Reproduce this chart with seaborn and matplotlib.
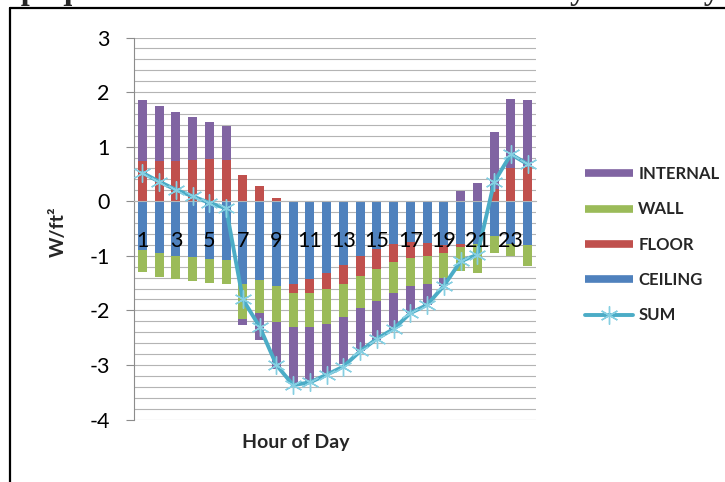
import numpy as np
import matplotlib
matplotlib.use("Agg")
import matplotlib.pyplot as plt
from matplotlib.lines import Line2D
from matplotlib.ticker import MultipleLocator
from matplotlib.transforms import offset_copy
import seaborn as sns

# Hourly heat flows through opaque surfaces (W/ft²), hours 1..24
hours = [str(h) for h in range(1, 25)]
ceiling = [-0.90, -0.95, -1.00, -1.02, -1.05, -1.07, -1.52, -1.45, -1.56, -1.51, -1.43, -1.32,
           -1.16, -1.00, -0.88, -0.79, -0.74, -0.77, -0.80, -0.78, -0.79, -0.63, -0.79, -0.81]
floor = [0.73, 0.73, 0.74, 0.75, 0.77, 0.76, 0.48, 0.27, 0.06, -0.17, -0.26, -0.29,
         -0.35, -0.37, -0.37, -0.32, -0.30, -0.24, -0.14, -0.05, 0.00, 0.22, 0.60, 0.63]
wall = [-0.40, -0.43, -0.42, -0.44, -0.45, -0.45, -0.63, -0.59, -0.66, -0.63, -0.61, -0.64,
        -0.61, -0.58, -0.57, -0.57, -0.52, -0.50, -0.46, -0.44, -0.52, -0.31, -0.21, -0.38]
internal = [1.12, 1.02, 0.89, 0.79, 0.68, 0.62, -0.11, -0.51, -0.85, -1.04, -1.01, -0.91,
            -0.86, -0.79, -0.72, -0.67, -0.49, -0.40, -0.15, 0.18, 0.34, 1.05, 1.27, 1.23]
total = [0.52, 0.36, 0.21, 0.09, -0.03, -0.13, -1.80, -2.30, -3.00, -3.37, -3.32, -3.18,
         -3.03, -2.75, -2.52, -2.34, -2.05, -1.90, -1.55, -1.10, -0.98, 0.35, 0.86, 0.68]

series = [("CEILING", ceiling), ("FLOOR", floor), ("WALL", wall), ("INTERNAL", internal)]
colors = {"CEILING": "#4F81BD", "FLOOR": "#C0504D", "WALL": "#9BBB59", "INTERNAL": "#8064A2"}
sum_color = "#4BACC6"
marker_color = "#86cfe2"
grid_color = "#b4b4b4"
axis_color = "#8c8c8c"

sns.set_theme(style="white")
plt.rcParams["font.family"] = ["Lato", "DejaVu Sans"]
plt.rcParams["axes.unicode_minus"] = False

W, H = 725, 482
fig = plt.figure(figsize=(W / 100, H / 100), dpi=100)
fig.patch.set_facecolor("white")
ax = fig.add_axes([134 / W, 1 - 419.5 / H, 402 / W, 382 / H])

# stacked bars: positives build up from zero, negatives build down from zero
pos_base = np.zeros(len(hours))
neg_base = np.zeros(len(hours))
for name, vals in series:
    v = np.asarray(vals, dtype=float)
    base = np.where(v >= 0, pos_base, neg_base)
    sns.barplot(x=hours, y=v, bottom=base, color=colors[name], saturation=1,
                width=0.55, errorbar=None, linewidth=0, edgecolor="none",
                ax=ax, zorder=2)
    pos_base = pos_base + np.clip(v, 0, None)
    neg_base = neg_base + np.clip(v, None, 0)

# net flow line
sns.lineplot(x=np.arange(len(hours)), y=total, ax=ax, color=sum_color, lw=2.8,
             marker=(6, 2, 0), ms=13, mec=marker_color, mew=1.0, zorder=3)

ax.set_xlim(-0.5, len(hours) - 0.5)
ax.set_ylim(-4, 3)
ax.yaxis.set_major_locator(MultipleLocator(1))
ax.yaxis.set_minor_locator(MultipleLocator(0.2))
ax.grid(axis="y", which="both", color=grid_color, lw=0.8)
ax.grid(axis="x", visible=False)
ax.set_axisbelow(True)

# hour labels sit just under the zero line, drawn over the bars
ax.set_xticks(range(len(hours)))
ax.set_xticklabels([])
ax.tick_params(axis="x", length=0)
below_zero = offset_copy(ax.transData, fig=fig, y=-29, units="points")
for i, h in enumerate(hours):
    if int(h) % 2:
        ax.text(i, 0, h, transform=below_zero, ha="center", va="center",
                fontsize=15.5, color="black", zorder=5)

ax.spines["bottom"].set_position(("data", 0))
ax.spines["bottom"].set_color(grid_color)
ax.spines["bottom"].set_linewidth(0.8)
ax.spines["left"].set_color(axis_color)
ax.spines["left"].set_linewidth(0.8)
ax.spines["top"].set_visible(False)
ax.spines["right"].set_visible(False)

ax.tick_params(axis="y", which="major", left=True, length=6, width=0.8, color=axis_color,
               pad=11.5, labelsize=15.5, labelcolor="black")
ax.tick_params(axis="y", which="minor", length=0)

ax.set_xlabel("Hour of Day", fontsize=14, fontweight="bold", va="center")
ax.xaxis.set_label_coords(0.403, -0.059)
ax.set_ylabel("W/ft²", fontsize=14, fontweight="bold", va="center")
ax.yaxis.set_label_coords(-0.189, 0.491)

# legend
order = ["INTERNAL", "WALL", "FLOOR", "CEILING"]
handles = [Line2D([0], [0], color=colors[n], lw=5.5, solid_capstyle="butt") for n in order]
handles.append(Line2D([0], [0], color=sum_color, lw=2.8, marker=(6, 2, 0), ms=13,
                      mec=marker_color, mew=1.0))
fig.legend(handles, order + ["SUM"], loc="center left",
           bbox_to_anchor=(585 / W, 1 - 244.7 / H), frameon=False,
           prop={"weight": "bold", "size": 12}, handlelength=2.9, handletextpad=0.3,
           labelspacing=1.16, borderpad=0, borderaxespad=0)

# page frame and the caption above it
fig.add_artist(Line2D([10 / W, 10 / W], [0, 1 - 8 / H], transform=fig.transFigure,
                      color="black", lw=1.6))
fig.add_artist(Line2D([10 / W, 1], [1 - 8 / H, 1 - 8 / H], transform=fig.transFigure,
                      color="black", lw=1.6))
fig.text(-4 / W, 1 + 1.5 / H, "Opaque Surface Heat Flows for a Saturday Weekday",
         fontsize=23, family="Liberation Serif", fontweight="bold",
         ha="left", va="baseline")

fig.savefig("out.png", dpi=100, facecolor="white")
